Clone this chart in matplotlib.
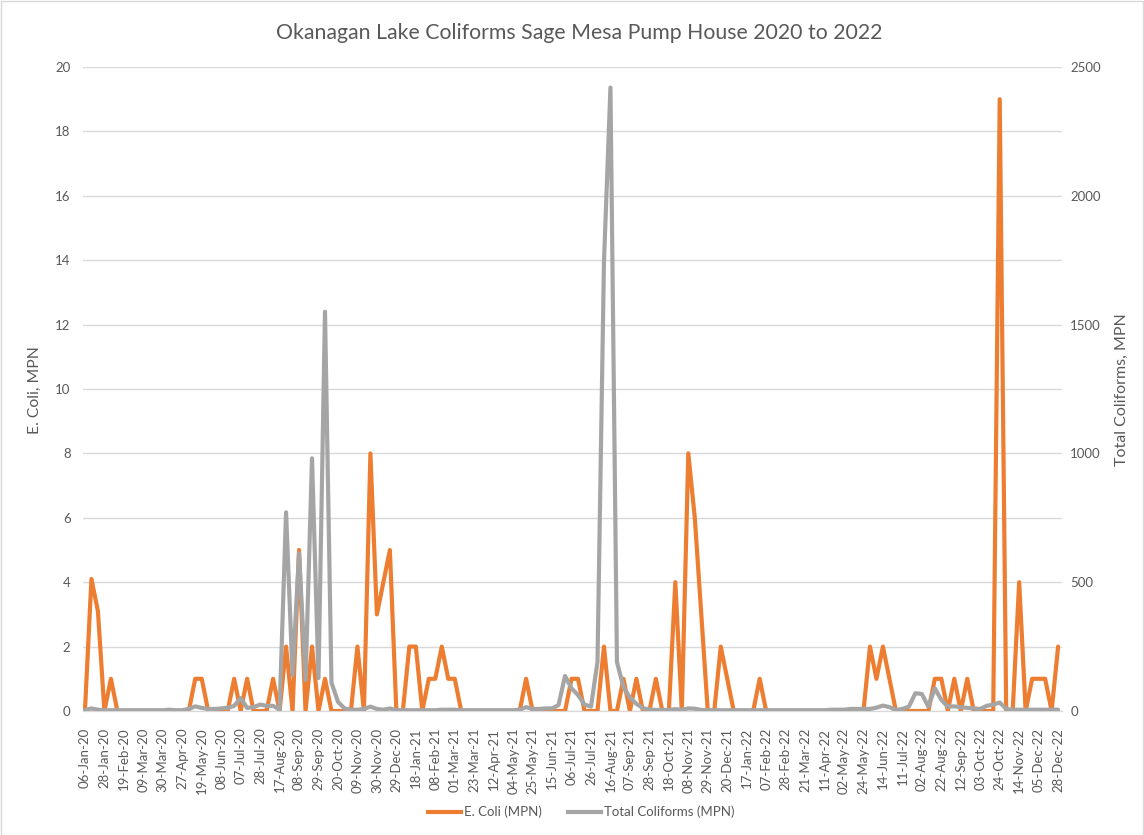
import matplotlib
matplotlib.use("Agg")
import matplotlib.pyplot as plt
import numpy as np
from matplotlib.lines import Line2D
from matplotlib.patches import Rectangle

tick_labels = [
    "06-Jan-20", "28-Jan-20", "19-Feb-20", "09-Mar-20", "30-Mar-20", "27-Apr-20",
    "19-May-20", "08-Jun-20", "07-Jul-20", "28-Jul-20", "17-Aug-20", "08-Sep-20",
    "29-Sep-20", "20-Oct-20", "09-Nov-20", "30-Nov-20", "29-Dec-20", "18-Jan-21",
    "08-Feb-21", "01-Mar-21", "23-Mar-21", "12-Apr-21", "04-May-21", "25-May-21",
    "15-Jun-21", "06-Jul-21", "26-Jul-21", "16-Aug-21", "07-Sep-21", "28-Sep-21",
    "18-Oct-21", "08-Nov-21", "29-Nov-21", "20-Dec-21", "17-Jan-22", "07-Feb-22",
    "28-Feb-22", "21-Mar-22", "11-Apr-22", "02-May-22", "24-May-22", "14-Jun-22",
    "11-Jul-22", "02-Aug-22", "22-Aug-22", "12-Sep-22", "03-Oct-22", "24-Oct-22",
    "14-Nov-22", "05-Dec-22", "28-Dec-22",
]

ecoli = [
    0, 4.1, 3.1, 0, 1, 0, 0, 0, 0, 0,
    0, 0, 0, 0, 0, 0, 0, 1, 1, 0,
    0, 0, 0, 1, 0, 1, 0, 0, 0, 1,
    0, 2, 0, 5, 0, 2, 0, 1, 0, 0,
    0, 0, 2, 0, 8, 3, 4, 5, 0, 0,
    2, 2, 0, 1, 1, 2, 1, 1, 0, 0,
    0, 0, 0, 0, 0, 0, 0, 0, 1, 0,
    0, 0, 0, 0, 0, 1, 1, 0, 0, 0,
    2, 0, 0, 1, 0, 1, 0, 0, 1, 0,
    0, 4, 0, 8, 6, 3, 0, 0, 2, 1,
    0, 0, 0, 0, 1, 0, 0, 0, 0, 0,
    0, 0, 0, 0, 0, 0, 0, 0, 0, 0,
    0, 2, 1, 2, 1, 0, 0, 0, 0, 0,
    0, 1, 1, 0, 1, 0, 1, 0, 0, 0,
    0, 19, 0, 0, 4, 0, 1, 1, 1, 0,
    2,
]

total_coliforms = [
    3, 10, 5, 3, 3, 3, 3, 3, 3, 3,
    3, 3, 3, 5, 3, 3, 8, 18, 12, 8,
    8, 10, 12, 20, 50, 12, 15, 25, 20, 20,
    5, 771, 140, 613, 120, 981, 128, 1550, 110, 36,
    10, 5, 5, 8, 17, 8, 5, 10, 3, 3,
    3, 3, 3, 3, 3, 5, 5, 5, 3, 3,
    3, 3, 3, 3, 3, 3, 3, 5, 15, 8,
    8, 10, 10, 23, 136, 88, 62, 25, 17, 190,
    1743, 2420, 190, 93, 52, 28, 11, 6, 4, 4,
    4, 7, 5, 10, 9, 4, 3, 3, 3, 3,
    3, 3, 3, 3, 3, 3, 3, 3, 3, 3,
    3, 3, 3, 3, 3, 5, 5, 5, 8, 8,
    8, 8, 13, 21, 15, 4, 8, 17, 69, 66,
    17, 88, 43, 17, 18, 15, 12, 10, 8, 20,
    25, 33, 8, 5, 5, 5, 5, 5, 5, 5,
    5,
]

ORANGE = "#ED7D31"
GREY = "#A5A5A5"
TXT = "#595959"
GRID = "#D9D9D9"

plt.rcParams['font.family'] = ['Lato', 'DejaVu Sans']

W, H = 1144, 835
fig = plt.figure(figsize=(W / 100, H / 100), dpi=100)
fig.patches.append(Rectangle((0.5 / W, 0.5 / H), 1 - 1.5 / W, 1 - 1.5 / H,
                             transform=fig.transFigure, fill=False,
                             edgecolor=GRID, lw=1))

left, right, top, bottom = 83, 1062, 67, 711
ax = fig.add_axes([left / W, 1 - bottom / H, (right - left) / W, (bottom - top) / H])
x = np.arange(len(ecoli))

ax.plot(x, ecoli, color=ORANGE, lw=3, solid_joinstyle='round',
        solid_capstyle='round', zorder=3)
ax2 = ax.twinx()
ax2.plot(x, total_coliforms, color=GREY, lw=3, solid_joinstyle='round',
         solid_capstyle='round', zorder=3)

ax.set_xlim(-0.3, 150.6)
ax.set_ylim(0, 20)
ax2.set_ylim(0, 2500)
ax.set_yticks(np.arange(0, 21, 2))
ax2.set_yticks(np.arange(0, 2501, 500))
ax.set_xticks(x[::3])
ax.set_xticklabels(tick_labels, rotation=90)

ax.grid(axis='y', color=GRID, lw=1)
ax.set_axisbelow(True)
for a in (ax, ax2):
    for s in ("top", "left", "right"):
        a.spines[s].set_visible(False)
    a.spines["bottom"].set_color(GRID)
    a.tick_params(length=0, labelcolor=TXT, labelsize=9.5)
ax.tick_params(axis='y', pad=9)
ax.tick_params(axis='x', pad=12)
ax2.tick_params(axis='y', pad=6)

fig.text(35 / W, 1 - 390 / H, "E. Coli, MPN", rotation=90, ha='center',
         va='center', color=TXT, fontsize=11.3)
fig.text(1122 / W, 1 - 390 / H, "Total Coliforms, MPN", rotation=90, ha='center',
         va='center', color=TXT, fontsize=11.5)
fig.text(0.5 * (277 + 882) / W, 1 - 33 / H,
         "Okanagan Lake Coliforms Sage Mesa Pump House 2020 to 2022",
         ha='center', va='center', color=TXT, fontsize=15.3)

handles = [Line2D([], [], color=ORANGE, lw=3),
           Line2D([], [], color=GREY, lw=3)]
fig.legend(handles, ["E. Coli (MPN)", "Total Coliforms (MPN)"],
           loc='center', bbox_to_anchor=(0.508, 1 - 812 / H), ncol=2,
           frameon=False, fontsize=9.5, labelcolor=TXT, handlelength=2.5,
           handletextpad=0.2, columnspacing=2.0)

fig.savefig("out.png", dpi=100)
